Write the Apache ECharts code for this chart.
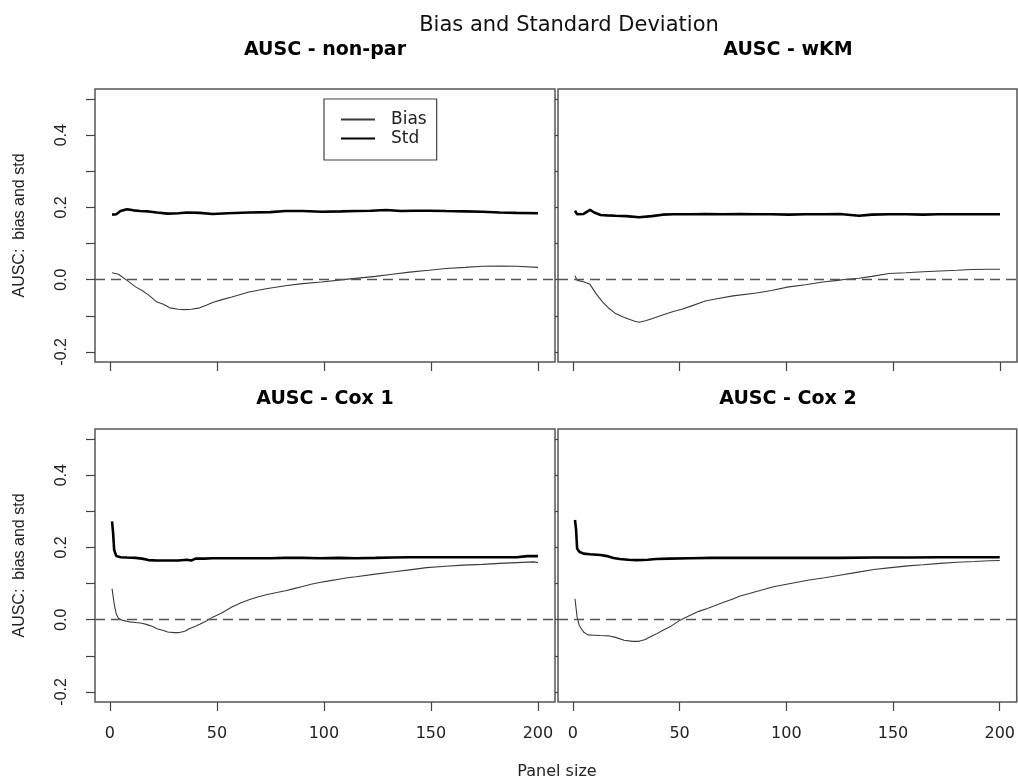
<!DOCTYPE html>
<html>
<head>
<meta charset="utf-8">
<script src="https://cdn.jsdelivr.net/npm/echarts@6/dist/echarts.min.js"></script>
<style>html,body{margin:0;padding:0;background:#fff;}#chart{width:1018px;height:780px;}</style>
</head>
<body>
<div id="chart"></div>
<script>
// ---- Data ----
const panelTitles = ['AUSC - non-par', 'AUSC - wKM', 'AUSC - Cox 1', 'AUSC - Cox 2'];
const xTickValues = [0, 50, 100, 150, 200];
const yTickValues = [-0.2, -0.1, 0, 0.1, 0.2, 0.3, 0.4, 0.5];
const yLabelValues = [-0.2, 0, 0.2, 0.4];

// AUSC - non-par
const nonparStdX = [1,3,5,8,11,14,18,22,27,32,36,42,48,55,65,75,82,90,99,108,115,122,129,136,142,149,157,166,174,182,190,200];
const nonparStd  = [0.180,0.181,0.190,0.195,0.192,0.190,0.189,0.186,0.183,0.184,0.186,0.185,0.182,0.184,0.186,0.187,0.190,0.190,0.188,0.189,0.190,0.191,0.193,0.190,0.191,0.191,0.190,0.189,0.188,0.186,0.185,0.184];
const nonparBiasX = [1,4,8,12,15,18,22,25,28,32,35,38,42,45,48,52,57,65,73,82,90,99,109,117,124,132,140,149,157,166,174,182,190,200];
const nonparBias  = [0.019,0.015,-0.002,-0.020,-0.030,-0.042,-0.062,-0.068,-0.078,-0.082,-0.083,-0.082,-0.078,-0.071,-0.063,-0.056,-0.048,-0.034,-0.025,-0.017,-0.011,-0.0065,0.000,0.005,0.009,0.015,0.021,0.026,0.031,0.034,0.037,0.038,0.037,0.034];

// AUSC - wKM
const wkmStdX = [1,2,5,8,10,13,16,20,25,31,37,42,47,55,62,70,78,86,93,101,109,117,125,134,140,148,156,164,171,180,190,200];
const wkmStd  = [0.191,0.181,0.182,0.193,0.186,0.179,0.178,0.177,0.176,0.173,0.176,0.180,0.181,0.181,0.182,0.181,0.182,0.181,0.181,0.180,0.181,0.181,0.182,0.177,0.180,0.181,0.181,0.180,0.181,0.181,0.181,0.181];
const wkmBiasX = [1,2,5,8,11,14,17,20,23,26,29,31,34,37,42,47,51,55,62,68,75,86,93,101,109,117,124,128,134,140,148,156,164,172,180,187,194,200];
const wkmBias  = [0.011,-0.002,-0.006,-0.013,-0.040,-0.062,-0.080,-0.094,-0.102,-0.109,-0.115,-0.118,-0.114,-0.108,-0.098,-0.088,-0.082,-0.074,-0.059,-0.052,-0.045,-0.037,-0.030,-0.020,-0.014,-0.0065,-0.002,0.001,0.004,0.009,0.017,0.019,0.022,0.024,0.026,0.028,0.029,0.029];

// AUSC - Cox 1
const cox1StdX = [1,1.5,2,3,5,8,12,15,18,22,27,32,36,38,40,44,48,55,65,75,82,90,98,107,115,124,132,140,148,157,165,174,182,190,195,200];
const cox1Std  = [0.272,0.240,0.193,0.176,0.173,0.172,0.171,0.169,0.165,0.164,0.164,0.164,0.166,0.164,0.169,0.169,0.170,0.170,0.170,0.170,0.171,0.171,0.170,0.171,0.170,0.171,0.172,0.173,0.173,0.173,0.173,0.173,0.173,0.173,0.176,0.176];
const cox1BiasX = [1,2,3,4,6,9,12,15,17,20,22,25,27,30,32,35,37,40,42,45,48,52,57,61,65,69,73,78,82,86,90,94,98,103,107,111,115,124,132,140,148,157,165,174,182,190,198,200];
const cox1Bias  = [0.086,0.044,0.015,0.004,-0.002,-0.006,-0.008,-0.010,-0.013,-0.019,-0.025,-0.030,-0.034,-0.036,-0.036,-0.032,-0.025,-0.018,-0.013,-0.004,0.007,0.018,0.035,0.046,0.055,0.063,0.069,0.075,0.080,0.086,0.092,0.098,0.103,0.108,0.112,0.116,0.119,0.126,0.132,0.138,0.144,0.148,0.151,0.153,0.156,0.158,0.160,0.158];

// AUSC - Cox 2
const cox2StdX = [1,1.5,2,3,5,8,13,16,19,22,26,30,35,39,45,55,65,78,90,110,125,141,157,172,185,200];
const cox2Std  = [0.276,0.250,0.197,0.188,0.183,0.181,0.179,0.176,0.171,0.168,0.166,0.165,0.166,0.168,0.169,0.170,0.171,0.171,0.171,0.171,0.171,0.172,0.172,0.173,0.173,0.173];
const cox2BiasX = [1,2,3,5,7,10,13,17,20,24,28,31,34,36,39,42,46,50,55,59,63,67,71,75,78,86,94,102,110,118,125,133,141,149,157,164,172,180,188,195,200];
const cox2Bias  = [0.058,0.007,-0.016,-0.034,-0.042,-0.043,-0.044,-0.045,-0.049,-0.057,-0.060,-0.060,-0.055,-0.048,-0.040,-0.030,-0.018,-0.002,0.012,0.023,0.031,0.040,0.049,0.057,0.065,0.078,0.091,0.100,0.109,0.116,0.123,0.131,0.139,0.144,0.149,0.152,0.156,0.159,0.161,0.163,0.164];

// ---- Build ----
const panels = [
  {stdX: nonparStdX, std: nonparStd, biasX: nonparBiasX, bias: nonparBias},
  {stdX: wkmStdX, std: wkmStd, biasX: wkmBiasX, bias: wkmBias},
  {stdX: cox1StdX, std: cox1Std, biasX: cox1BiasX, bias: cox1Bias},
  {stdX: cox2StdX, std: cox2Std, biasX: cox2BiasX, bias: cox2Bias}
];
const zip = (xs, ys) => xs.map((x, i) => [x, ys[i]]);

const gridPos = [
  {left: 95, top: 89, width: 460, height: 273},
  {left: 558, top: 89, width: 459, height: 273},
  {left: 95, top: 429, width: 460, height: 273},
  {left: 558, top: 429, width: 459, height: 273}
];
const HFONT = 'DejaVu Sans';
const VFONT = 'Liberation Sans';

const grids = gridPos.map(g => Object.assign({
  show: true, borderColor: '#555', borderWidth: 1.5, backgroundColor: 'transparent', containLabel: false
}, g));

const xAxes = gridPos.map((g, i) => ({
  type: 'value', gridIndex: i, min: -6.96, max: 207.96, position: 'bottom',
  axisLine: {show: false, onZero: false},
  splitLine: {show: false},
  axisTick: {show: true, inside: false, length: 9, customValues: xTickValues, lineStyle: {color: '#444', width: 1.2}},
  axisLabel: {show: i >= 2, customValues: xTickValues, margin: 24, color: '#222', fontFamily: HFONT, fontSize: 16}
}));

const yAxes = gridPos.map((g, i) => ({
  type: 'value', gridIndex: i, min: -0.228, max: 0.528, position: 'left',
  axisLine: {show: false, onZero: false},
  splitLine: {show: false},
  axisTick: {show: true, inside: false, length: (i % 2 === 0) ? 9 : 3, customValues: yTickValues, lineStyle: {color: '#444', width: 1.2}},
  axisLabel: {show: i % 2 === 0, customValues: yLabelValues, rotate: 90, margin: 25, color: '#222',
    fontFamily: VFONT, fontSize: 16, formatter: v => v.toFixed(1)},
  name: (i % 2 === 0) ? 'AUSC:  bias and std' : '',
  nameLocation: 'middle', nameRotate: 90, nameGap: 67,
  nameTextStyle: {fontFamily: VFONT, fontSize: 16, color: '#222'}
}));

const series = [];
panels.forEach((p, i) => {
  series.push({
    name: 'Bias', type: 'line', xAxisIndex: i, yAxisIndex: i, data: zip(p.biasX, p.bias),
    symbol: 'none', smooth: false, lineStyle: {color: '#3a3a3a', width: 1.1}, itemStyle: {color: '#3a3a3a'},
    animation: false, silent: true,
    markLine: {silent: true, symbol: 'none', animation: false, label: {show: false},
      lineStyle: {color: '#555', type: [10, 6], width: 1.3}, data: [{yAxis: 0}]}
  });
  series.push({
    name: 'Std', type: 'line', xAxisIndex: i, yAxisIndex: i, data: zip(p.stdX, p.std),
    symbol: 'none', lineStyle: {color: '#000', width: 2.6}, itemStyle: {color: '#000'},
    animation: false, silent: true
  });
});

const titleCenters = [325, 788, 325, 788];
const titleTops = [40.5, 40.5, 389.5, 389.5];
const titles = [
  {text: 'Bias and Standard Deviation', left: 569, top: 15, textAlign: 'center', padding: 0,
   textStyle: {fontFamily: HFONT, fontWeight: 'normal', fontSize: 21, color: '#111'}},
  {text: 'Panel size', left: 557, top: 764, textAlign: 'center', padding: 0,
   textStyle: {fontFamily: HFONT, fontWeight: 'normal', fontSize: 16, color: '#222'}}
];
panelTitles.forEach((t, i) => titles.push({
  text: t, left: titleCenters[i], top: titleTops[i], textAlign: 'center', padding: 0,
  textStyle: {fontFamily: HFONT, fontWeight: 'bold', fontSize: 19, color: '#000'}
}));

const chart = echarts.init(document.getElementById('chart'), null, {renderer: 'canvas'});
chart.setOption({
  backgroundColor: '#fff',
  animation: false,
  title: titles,
  legend: {
    data: ['Bias', 'Std'], orient: 'vertical', left: 324, top: 99, selectedMode: false,
    itemWidth: 34, itemHeight: 14, itemGap: 2, padding: [12, 10, 13, 16],
    itemStyle: {opacity: 0},
    borderColor: '#444', borderWidth: 1.2, backgroundColor: '#fff',
    textStyle: {fontFamily: HFONT, fontSize: 17, color: '#222', padding: [0, 0, 0, 11]}
  },
  grid: grids,
  xAxis: xAxes,
  yAxis: yAxes,
  series: series
});
</script>
</body>
</html>
